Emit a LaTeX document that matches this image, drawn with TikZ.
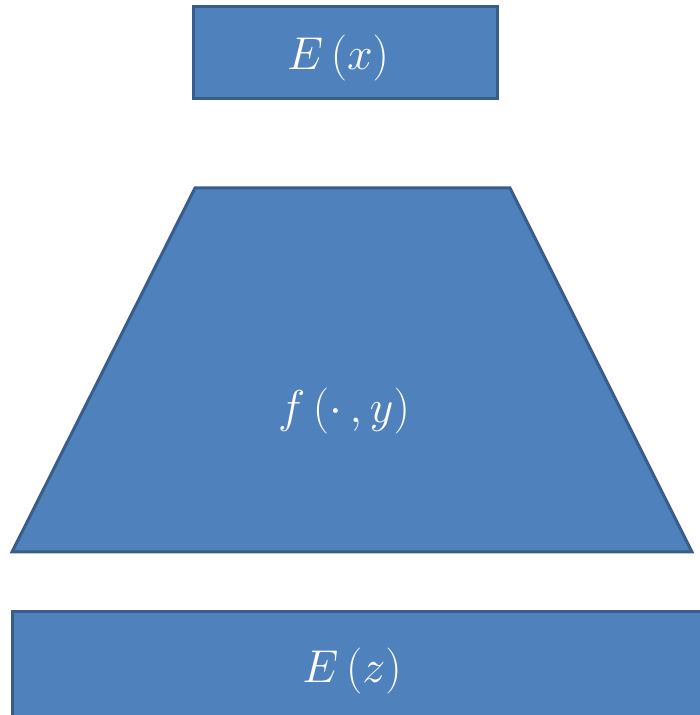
\RequirePackage{fix-cm}
\documentclass[tikz,border=0pt]{standalone}
\usepackage{amsmath}
\definecolor{boxfill}{HTML}{4F81BD}
\definecolor{boxline}{HTML}{385D8A}
\begin{document}
\begin{tikzpicture}[x=1pt, y=1pt,
    block/.style={fill=boxfill, draw=boxline, line width=3pt, line join=miter},
    label/.style={text=white, font=\fontsize{46}{52}\selectfont, inner sep=0pt}]
  % Encoder on top, the map in the middle, the code at the bottom.
  \useasboundingbox (0,0) rectangle (700,715);
  \clip (0,0) rectangle (700,715);
  \draw[block] (193,708) rectangle (497,616);
  \draw[block] (195,527) -- (510,527) -- (692,163) -- (12,163) -- cycle;
  \draw[block] (12,103) rectangle (730,-30);
  \node[label] (ex) at (338,657) {$E\,(x)$};
  \node[label] (fy) at (344,304) {$f\,(\cdot\,,y)$};
  \node[label] (ez) at (352,44) {$E\,(z)$};
\end{tikzpicture}
\end{document}
